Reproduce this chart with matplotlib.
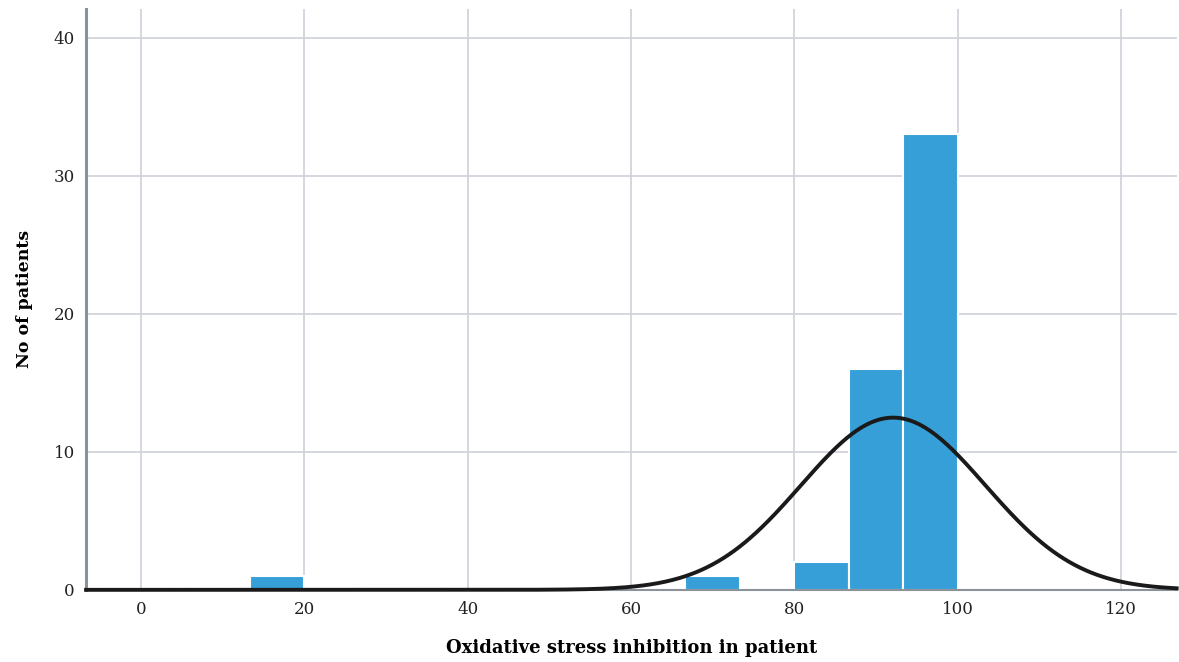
import numpy as np
import matplotlib.pyplot as plt

# histogram bins (width 100/15) and patient counts
bar_left = [13.33, 66.67, 80.0, 86.67, 93.33]
bar_counts = [1, 1, 2, 16, 33]
bin_width = 100 / 15

# fitted normal curve
curve_mean = 92.1
curve_sd = 11.3
n_total = sum(bar_counts)

x_ticks = [0, 20, 40, 60, 80, 100, 120]
y_ticks = [0, 10, 20, 30, 40]

plt.rcParams['font.family'] = ['DejaVu Serif']

fig = plt.figure(figsize=(11.79, 6.62), dpi=100)
ax = fig.add_axes([0.073, 0.109, 0.925, 0.878])

ax.bar(bar_left, bar_counts, width=bin_width, align='edge',
       color='#379FD8', edgecolor='white', linewidth=1.5, zorder=2)

xs = np.linspace(-6.7, 126.8, 600)
ys = n_total * bin_width / (curve_sd * np.sqrt(2 * np.pi)) * np.exp(-(xs - curve_mean) ** 2 / (2 * curve_sd ** 2))
ax.plot(xs, ys, color='#1a1a1a', linewidth=2.8, zorder=3, clip_on=False)

ax.set_xlim(-6.7, 126.8)
ax.set_ylim(0, 42.1)
ax.set_xticks(x_ticks)
ax.set_yticks(y_ticks)
ax.grid(True, color='#CDD1D8', linewidth=1.2, zorder=0)
ax.set_axisbelow(True)
ax.tick_params(length=0, labelsize=12, colors='#222222', pad=8)

for side in ['top', 'right']:
    ax.spines[side].set_visible(False)
ax.spines['left'].set_color('#8C929B')
ax.spines['left'].set_linewidth(2.2)
ax.spines['bottom'].set_color('#8C929B')
ax.spines['bottom'].set_linewidth(1.5)

ax.set_xlabel('Oxidative stress inhibition in patient', fontsize=13, fontweight='bold', labelpad=15)
ax.set_ylabel('No of patients', fontsize=12.5, fontweight='bold', labelpad=15)

fig.savefig('out.png', dpi=100)
